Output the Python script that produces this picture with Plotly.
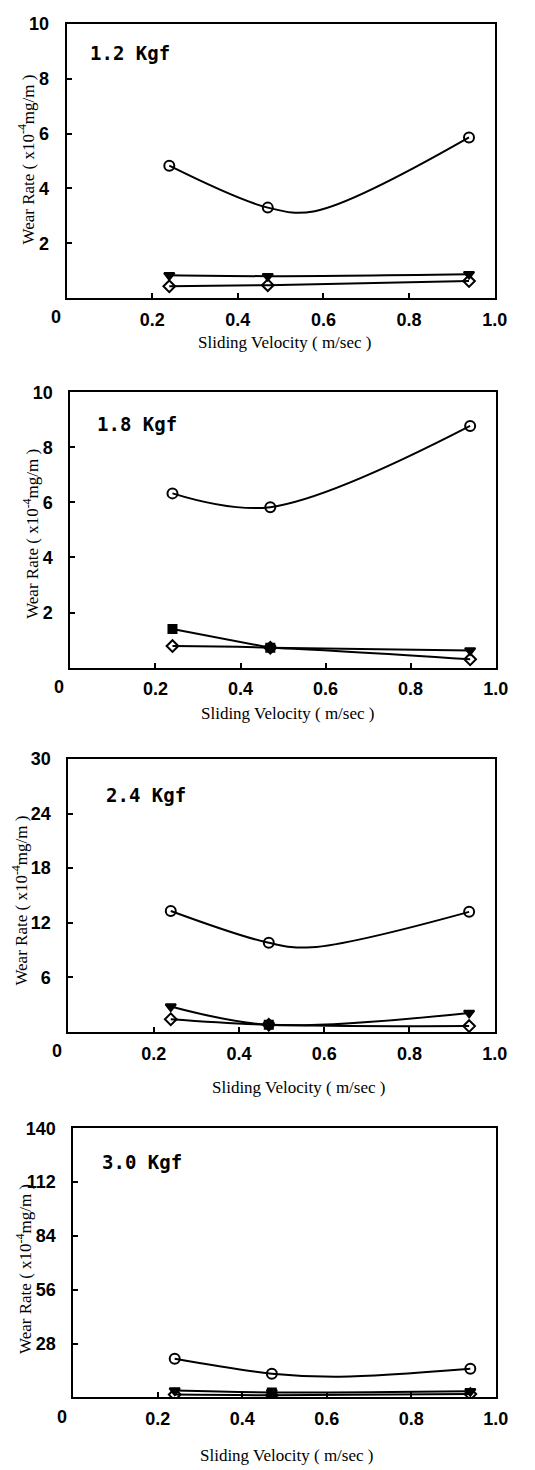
import plotly.graph_objects as go

# ---------------- data ----------------
velocity = [0.24, 0.47, 0.94]
load_labels = ["1.2 Kgf", "1.8 Kgf", "2.4 Kgf", "3.0 Kgf"]

# open circles (upper curve)
circle_12 = [4.83, 3.3, 5.86]
circle_18 = [6.33, 5.83, 8.78]
circle_24 = [13.3, 9.8, 13.2]
circle_30 = [20.1, 12.4, 14.9]

# drawn curve through the circles
curve_x_12 = [0.24, 0.47, 0.58, 0.94]
curve_y_12 = [4.83, 3.3, 3.17, 5.86]
curve_x_18 = [0.24, 0.47, 0.94]
curve_y_18 = [6.33, 5.83, 8.78]
curve_x_24 = [0.24, 0.47, 0.57, 0.94]
curve_y_24 = [13.3, 9.8, 9.3, 13.2]
curve_x_30 = [0.24, 0.47, 0.63, 0.94]
curve_y_30 = [20.1, 12.4, 10.8, 14.9]

# filled triangles
tri_12 = [0.83, 0.8, 0.87]
tri_18 = [None, 0.72, 0.62]
tri_24 = [2.8, 0.8, 2.1]
tri_30 = [3.6, 2.6, 3.2]

# filled squares
sq_12 = [None, None, None]
sq_18 = [1.4, 0.72, None]
sq_24 = [None, 0.8, None]
sq_30 = [None, 2.6, None]

# open diamonds
dia_12 = [0.43, 0.47, 0.62]
dia_18 = [0.78, 0.72, 0.3]
dia_24 = [1.4, 0.8, 0.65]
dia_30 = [1.5, 1.2, 1.8]

y_max = [10, 10, 30, 140]
y_ticks = [[2, 4, 6, 8, 10], [2, 4, 6, 8, 10], [6, 12, 18, 24, 30], [28, 56, 84, 112, 140]]
x_ticks = [0.2, 0.4, 0.6, 0.8, 1.0]
x_ticktext = ["0.2", "0.4", "0.6", "0.8", "1.0"]

x_title = "Sliding Velocity ( m/sec )"
y_title = "Wear Rate ( x10<sup>-4</sup>mg/m )"

# ---------------- layout geometry (pixels in the reference page) ----------------
OFF = 8               # page body margin
W, H = 535 - OFF, 1470 - OFF
boxes = [  # left, right, top, bottom
    (68, 507, 14, 290),
    (72, 508, 385, 662),
    (70, 507, 754, 1029),
    (75, 508, 1126, 1397),
]
xtitle_pos = [(291, 335), (295, 708), (306, 1085), (294, 1455)]
ytitle_pos = [(27, 151), (32, 527), (20, 897), (25, 1268)]
label_pos = [(90, 43), (97, 417), (106, 790), (102, 1160)]

panels = [
    (circle_12, curve_x_12, curve_y_12, tri_12, sq_12, dia_12),
    (circle_18, curve_x_18, curve_y_18, tri_18, sq_18, dia_18),
    (circle_24, curve_x_24, curve_y_24, tri_24, sq_24, dia_24),
    (circle_30, curve_x_30, curve_y_30, tri_30, sq_30, dia_30),
]

fig = go.Figure()
tick_font = dict(family="Liberation Sans", size=18, color="black", weight="bold")
serif = dict(family="Liberation Serif", size=17, color="black")
annotations = []


def px(x):
    return (x - OFF) / W


def py(y):
    return 1 - (y - OFF) / H


line_style = dict(color="black", width=2, shape="spline", smoothing=1.0)

for i, (circ, cx, cy, tri, sq, dia) in enumerate(panels):
    n = "" if i == 0 else str(i + 1)
    xa, ya = "x" + n, "y" + n
    l, r, t, b = boxes[i]

    # curve through circles
    fig.add_trace(go.Scatter(x=cx, y=cy, mode="lines", line=line_style,
                             xaxis=xa, yaxis=ya, showlegend=False, hoverinfo="skip"))
    # lower series
    for vals, sym, size in ((tri, "triangle-down", 9), (sq, "square", 8), (dia, "diamond-open", 9)):
        fig.add_trace(go.Scatter(x=velocity, y=vals, mode="lines+markers",
                                 line=line_style,
                                 marker=dict(symbol=sym, size=size, color="black",
                                             line=dict(color="black", width=2)),
                                 connectgaps=False,
                                 xaxis=xa, yaxis=ya, showlegend=False))
    # circle markers
    fig.add_trace(go.Scatter(x=velocity, y=circ, mode="markers",
                             marker=dict(symbol="circle-open", size=10, color="black",
                                         line=dict(color="black", width=2)),
                             xaxis=xa, yaxis=ya, showlegend=False))

    ax_common = dict(showline=True, mirror=True, linecolor="black", linewidth=2,
                     ticks="inside", ticklen=5, tickwidth=1.5, tickcolor="black",
                     showgrid=False, zeroline=False, tickfont=tick_font)
    fig.update_layout({
        "xaxis" + n: dict(ax_common, domain=[px(l), px(r)], range=[0, 1.0],
                          tickvals=x_ticks, ticktext=x_ticktext, anchor=ya,
                          ticklabelstandoff=4),
        "yaxis" + n: dict(ax_common, domain=[py(b), py(t)], range=[0, y_max[i]],
                          tickvals=y_ticks[i], anchor=xa, ticklabelstandoff=12),
    })

    # origin "0" label
    annotations.append(dict(text="0", x=0, y=0, xref=xa, yref=ya, showarrow=False,
                            xanchor="center", yanchor="top", xshift=-11, yshift=-7,
                            font=tick_font))
    # axis titles
    xt = xtitle_pos[i]
    annotations.append(dict(text=x_title, x=px(xt[0]), y=py(xt[1]), xref="paper", yref="paper",
                            showarrow=False, xanchor="center", yanchor="middle", font=serif))
    yt = ytitle_pos[i]
    annotations.append(dict(text=y_title, x=px(yt[0]), y=py(yt[1]), xref="paper", yref="paper",
                            showarrow=False, xanchor="center", yanchor="middle", textangle=-90,
                            font=serif))
    # load label
    lp = label_pos[i]
    annotations.append(dict(text=load_labels[i], x=px(lp[0]), y=py(lp[1]), xref="paper",
                            yref="paper", showarrow=False, xanchor="left", yanchor="middle",
                            font=dict(family="DejaVu Sans Mono", size=19, color="black",
                                      weight="bold")))

fig.update_layout(width=W, height=H, margin=dict(l=0, r=0, t=0, b=0),
                  paper_bgcolor="white", plot_bgcolor="white",
                  annotations=annotations)

fig.write_html("out.html")
